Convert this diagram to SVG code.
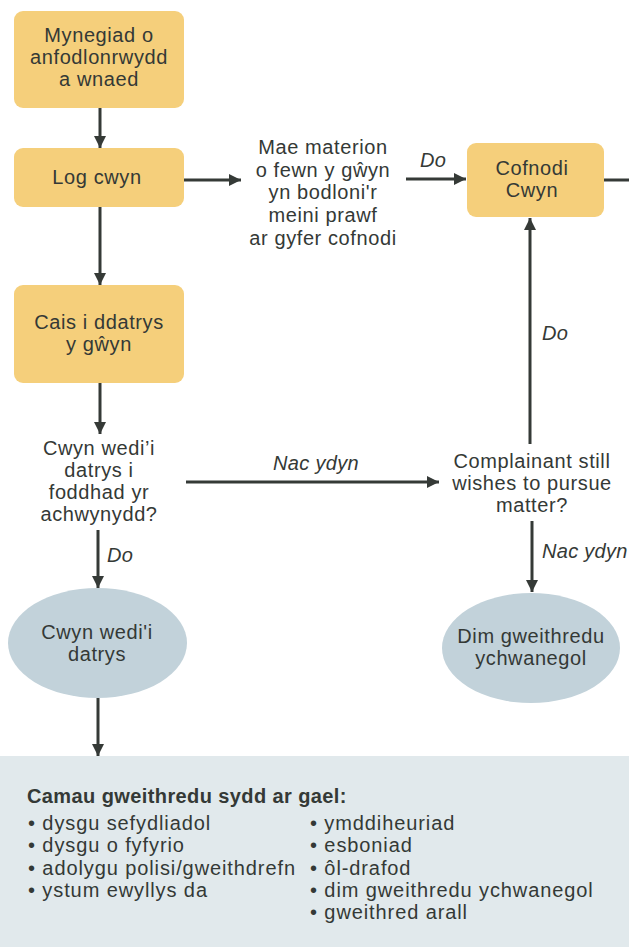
<svg xmlns="http://www.w3.org/2000/svg" width="629" height="947" viewBox="0 0 629 947">
<style>
  text { font-family: "Liberation Sans", Arial, sans-serif; font-size: 20px; fill: #343936; letter-spacing: 0.6px; }
  .c { text-anchor: middle; }
  .i { font-style: italic; letter-spacing: 0.3px; }
  .b { font-weight: bold; letter-spacing: 0.4px; }
  .li { letter-spacing: 0.9px; }
  .box { fill: #f5cf7b; }
  .ell { fill: #c2d2da; }
  .ln { stroke: #353a37; stroke-width: 3; fill: none; }
</style>
<defs>
  <marker id="ah" markerUnits="userSpaceOnUse" markerWidth="13" markerHeight="13" refX="12" refY="6" orient="auto">
    <path d="M0,0 L12,6 L0,12 z" fill="#353a37"/>
  </marker>
</defs>
<rect x="0" y="756" width="629" height="191" fill="#e1e9ec"/>
<g id="connectors">
  <line class="ln" x1="100" y1="108" x2="100" y2="148" marker-end="url(#ah)"/>
  <line class="ln" x1="184" y1="180" x2="241" y2="180" marker-end="url(#ah)"/>
  <line class="ln" x1="100" y1="207" x2="100" y2="285" marker-end="url(#ah)"/>
  <line class="ln" x1="406" y1="179" x2="466" y2="179" marker-end="url(#ah)"/>
  <line class="ln" x1="604" y1="180" x2="629" y2="180"/>
  <line class="ln" x1="100" y1="383" x2="100" y2="434" marker-end="url(#ah)"/>
  <line class="ln" x1="186" y1="482" x2="439" y2="482" marker-end="url(#ah)"/>
  <line class="ln" x1="530" y1="444" x2="530" y2="218" marker-end="url(#ah)"/>
  <line class="ln" x1="98" y1="530" x2="98" y2="588" marker-end="url(#ah)"/>
  <line class="ln" x1="532" y1="521" x2="532" y2="592" marker-end="url(#ah)"/>
  <line class="ln" x1="98" y1="698" x2="98" y2="756" marker-end="url(#ah)"/>
  <text class="i c" x="433" y="167">Do</text>
  <text class="i" x="542" y="340">Do</text>
  <text class="i c" x="316" y="470">Nac ydyn</text>
  <text class="i" x="107" y="562">Do</text>
  <text class="i" x="542" y="558">Nac ydyn</text>
</g>
<g id="n1">
  <rect class="box" x="14" y="11" width="170" height="97" rx="9"/>
  <text class="c" x="99" y="42">Mynegiad o</text>
  <text class="c" x="99" y="64">anfodlonrwydd</text>
  <text class="c" x="99" y="86">a wnaed</text>
</g>
<g id="n2">
  <rect class="box" x="14" y="148" width="170" height="59" rx="9"/>
  <text class="c" x="97" y="184">Log cwyn</text>
</g>
<g id="n3">
  <text class="c" x="323" y="154">Mae materion</text>
  <text class="c" x="323" y="177">o fewn y gŵyn</text>
  <text class="c" x="323" y="199">yn bodloni'r</text>
  <text class="c" x="323" y="222">meini prawf</text>
  <text class="c" x="323" y="245">ar gyfer cofnodi</text>
</g>
<g id="n4">
  <rect class="box" x="467" y="143" width="137" height="74" rx="9"/>
  <text class="c" x="532" y="175">Cofnodi</text>
  <text class="c" x="532" y="197">Cwyn</text>
</g>
<g id="n5">
  <rect class="box" x="14" y="285" width="170" height="98" rx="9"/>
  <text class="c" x="99" y="329">Cais i ddatrys</text>
  <text class="c" x="99" y="351">y gŵyn</text>
</g>
<g id="n6">
  <text class="c" x="99" y="455">Cwyn wedi’i</text>
  <text class="c" x="99" y="477">datrys i</text>
  <text class="c" x="99" y="499">foddhad yr</text>
  <text class="c" x="99" y="521">achwynydd?</text>
</g>
<g id="n7">
  <text class="c" x="532" y="468">Complainant still</text>
  <text class="c" x="532" y="490">wishes to pursue</text>
  <text class="c" x="532" y="512">matter?</text>
</g>
<g id="n8">
  <ellipse class="ell" cx="97.5" cy="643" rx="89.5" ry="55"/>
  <text class="c" x="97" y="639">Cwyn wedi'i</text>
  <text class="c" x="97" y="661">datrys</text>
</g>
<g id="n9">
  <ellipse class="ell" cx="531" cy="648" rx="89" ry="55"/>
  <text class="c" x="531" y="643">Dim gweithredu</text>
  <text class="c" x="531" y="665">ychwanegol</text>
</g>
<g id="n10">
  <text class="b" x="27" y="803">Camau gweithredu sydd ar gael:</text>
  <text class="li" x="28" y="830">• dysgu sefydliadol</text>
  <text class="li" x="28" y="852">• dysgu o fyfyrio</text>
  <text class="li" x="28" y="875">• adolygu polisi/gweithdrefn</text>
  <text class="li" x="28" y="897">• ystum ewyllys da</text>
  <text class="li" x="310" y="830">• ymddiheuriad</text>
  <text class="li" x="310" y="852">• esboniad</text>
  <text class="li" x="310" y="875">• ôl-drafod</text>
  <text class="li" x="310" y="897">• dim gweithredu ychwanegol</text>
  <text class="li" x="310" y="919">• gweithred arall</text>
</g>
</svg>
